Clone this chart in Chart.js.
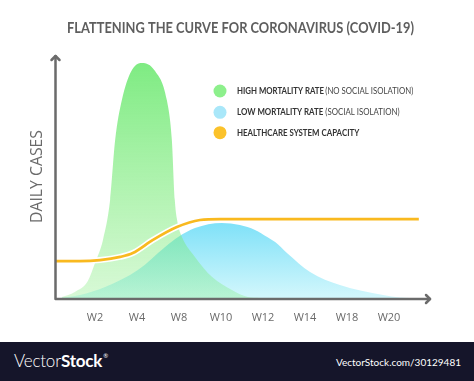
<!DOCTYPE html>
<html><head><meta charset="utf-8">
<script src="https://cdn.jsdelivr.net/npm/chart.js@4.4.1/dist/chart.umd.min.js"></script>
<style>
html,body{margin:0;padding:0;background:#fff;width:474px;height:381px;overflow:hidden;}
#wrap{position:relative;width:474px;height:342px;}
#footer{position:absolute;left:0;top:342px;width:474px;height:39px;background:#15152a;color:#fff;font-family:Lato,"Open Sans",sans-serif;}
#footer .logo{position:absolute;left:14px;top:8px;font-size:17px;letter-spacing:-0.2px;}
#footer .logo .l{font-weight:300;}
#footer .logo .b{font-weight:700;}
#footer .logo sup{font-size:6px;vertical-align:top;position:relative;top:2px;margin-left:1px;}
#footer .url{position:absolute;right:13px;top:14px;font-size:10px;}
</style></head>
<body>
<div id="wrap"><canvas id="c"></canvas></div>
<div id="footer"><span class="logo"><span class="l">Vector</span><span class="b">Stock</span><sup>®</sup></span><span class="url">VectorStock.com/30129481</span></div>
<script>
// ---- data ----
const chartTitle = 'FLATTENING THE CURVE FOR CORONAVIRUS (COVID-19)';
const yTitle = 'DAILY CASES';
const weekLabels = ['W2','W4','W8','W10','W12','W14','W18','W20'];
// x = position along the week axis (0 = W2, 1 = W4, ...), y = daily cases (relative)
const highPos   = [-0.79,-0.48,-0.17,0,0.19,0.36,0.48,0.64,0.86,1.12,1.42,1.71,1.83,1.9,1.98,2.07,2.38,2.79,3.26,3.64,3.93];
const highCases = [0.4,2.5,7.0,14.4,23.9,40.3,65.0,81.5,93.2,96.7,93.6,81.5,65.0,40.3,30.0,25.1,16.9,8.6,3.3,0.4,0];
const lowPos    = [-0.83,-0.36,0.24,1.02,1.67,1.98,2.38,3.02,3.45,3.81,4.1,4.29,4.57,5.12,5.83,6.86,7.26,7.5];
const lowCases  = [0,1.2,4.5,11.5,21.0,25.1,28.8,30.9,30.0,28.0,25.1,23.0,18.5,10.7,5.3,1.2,0.2,0];
const capPos    = [-0.95,-0.36,0.12,0.6,0.9,1.38,1.95,2.5,2.98,7.71];
const capCases  = [15.2,15.2,15.6,16.9,18.5,23.9,29.2,32.1,32.5,32.5];
const legendBold = ['HIGH MORTALITY RATE','LOW MORTALITY RATE','HEALTHCARE SYSTEM CAPACITY'];
const legendNote = ['(NO SOCIAL ISOLATION)','(SOCIAL ISOLATION)',''];
const legendColors = ['#8df08c','#a9e7f9','#fbc22b'];

const pts = (xs, ys) => xs.map((x, i) => ({x, y: ys[i]}));

function fitText(ctx, text, x, y, width, font, color, rot) {
  ctx.save();
  ctx.font = font; ctx.fillStyle = color; ctx.textBaseline = 'middle'; ctx.textAlign = 'left';
  const w = ctx.measureText(text).width;
  ctx.translate(x, y);
  if (rot) ctx.rotate(rot);
  ctx.scale(width / w, 1);
  ctx.fillText(text, 0, 0);
  ctx.restore();
}

const decor = {
  id: 'decor',
  afterDraw(chart) {
    const ctx = chart.ctx, a = chart.chartArea;
    // axes with arrows
    ctx.save();
    ctx.strokeStyle = '#6b6b6b'; ctx.lineWidth = 2.5; ctx.lineCap = 'round'; ctx.lineJoin = 'round';
    const ax = a.left + 0.5, ay = a.bottom + 1;
    ctx.beginPath(); ctx.moveTo(ax, a.top + 1); ctx.lineTo(ax, ay); ctx.lineTo(a.right, ay); ctx.stroke();
    ctx.beginPath(); ctx.moveTo(ax - 4, a.top + 5); ctx.lineTo(ax, a.top + 1); ctx.lineTo(ax + 4, a.top + 5); ctx.stroke();
    ctx.beginPath(); ctx.moveTo(a.right - 4, ay - 4); ctx.lineTo(a.right, ay); ctx.lineTo(a.right - 4, ay + 4); ctx.stroke();
    ctx.restore();
    // title
    fitText(ctx, chartTitle, 67, 28, 347, 'bold 15px Lato', '#5e5e5e');
    // y title
    fitText(ctx, yTitle, 37, 223, 93, '17px "Open Sans"', '#6a6a6a', -Math.PI / 2);
    // legend
    const rows = [91, 112.3, 132.7];
    const boldW = [87, 86.3, 122.3];
    const noteW = [88, 74.3, 0];
    rows.forEach((y, i) => {
      ctx.save();
      ctx.fillStyle = legendColors[i];
      ctx.beginPath(); ctx.arc(220, y, 6.5, 0, Math.PI * 2); ctx.fill();
      ctx.restore();
      fitText(ctx, legendBold[i], 237, y, boldW[i], 'bold 9px Lato', '#333');
      if (legendNote[i]) fitText(ctx, legendNote[i], 325.3, y, noteW[i], '9px Lato', '#444');
    });
  }
};

function gradient(chart, stops, v0, v1) {
  const a = chart.chartArea;
  if (!a) return stops[0][1];
  const ys = chart.scales.y;
  const g = chart.ctx.createLinearGradient(0, ys.getPixelForValue(v0), 0, ys.getPixelForValue(v1));
  stops.forEach(s => g.addColorStop(s[0], s[1]));
  return g;
}

new Chart(document.getElementById('c'), {
  type: 'line',
  data: {
    datasets: [
      { label: legendBold[0], data: pts(highPos, highCases), order: 2, fill: 'origin', borderWidth: 0,
        backgroundColor: c => gradient(c.chart, [[0,'rgba(105,232,110,0.88)'],[1,'rgba(125,235,120,0.30)']], 100, 0) },
      { label: legendBold[1], data: pts(lowPos, lowCases), order: 3, fill: 'origin', borderWidth: 0,
        backgroundColor: c => gradient(c.chart, [[0,'#7fe1f8'],[1,'#d3f7fc']], 31, 0) },
      { label: 'outline', data: pts(capPos, capCases), order: 1, fill: false, borderColor: '#ffffff', borderWidth: 6 },
      { label: legendBold[2], data: pts(capPos, capCases), order: 0, fill: false, borderColor: '#f9b91f', borderWidth: 2.7 }
    ]
  },
  options: {
    responsive: true, maintainAspectRatio: false, animation: false,
    layout: { padding: { left: 0, right: 44, top: 55, bottom: 0 } },
    elements: { point: { radius: 0 }, line: { cubicInterpolationMode: 'monotone' } },
    plugins: { legend: { display: false }, title: { display: false }, tooltip: { enabled: false } },
    scales: {
      x: {
        type: 'linear', min: -0.952, max: 7.976,
        grid: { display: false, drawTicks: false }, border: { display: false },
        afterBuildTicks: s => { s.ticks = weekLabels.map((_, i) => ({ value: i })); },
        afterFit: s => { s.height = 44; },
        ticks: { padding: 13, color: '#6a6a6a', font: { family: 'Open Sans', size: 11 },
          callback: v => weekLabels[Math.round(v)] }
      },
      y: {
        min: 0, max: 100,
        grid: { display: false, drawTicks: false }, border: { display: false },
        ticks: { display: false },
        afterFit: s => { s.width = 55; }
      }
    }
  },
  plugins: [decor]
});
</script>
</body></html>
